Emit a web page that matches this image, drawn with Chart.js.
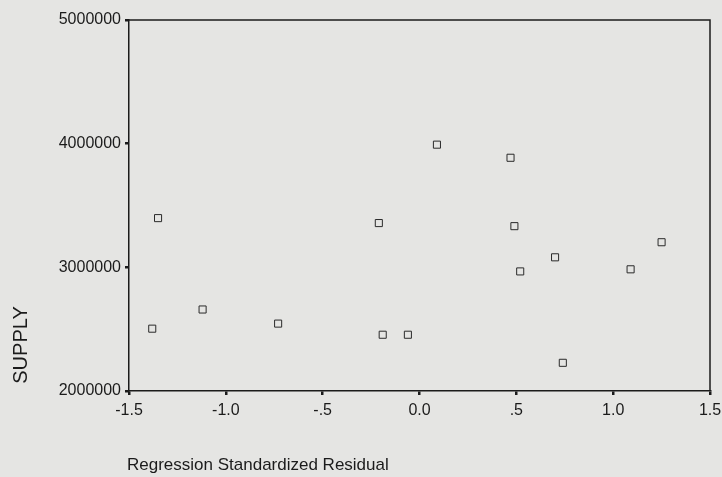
<!DOCTYPE html>
<html>
<head>
<meta charset="utf-8">
<script src="https://cdn.jsdelivr.net/npm/chart.js"></script>
<style>
  html, body { margin: 0; padding: 0; background: #e5e5e3; }
  #wrap { width: 722px; height: 477px; }
</style>
</head>
<body>
<div id="wrap"><canvas id="plot" width="722" height="477"></canvas></div>
<script>
// residuos padronizados (eixo x) e SUPPLY (eixo y)
const residuals = [-1.38, -1.35, -1.12, -0.73, -0.21, -0.19, -0.06, 0.09, 0.47, 0.49, 0.52, 0.70, 0.74, 1.09, 1.25];
const supply = [2504000, 3398000, 2659000, 2545000, 3358000, 2455000, 2455000, 3992000, 3886000, 3333000, 2967000, 3081000, 2228000, 2984000, 3203000];

const xTickLabels = ['-1.5', '-1.0', '-.5', '0.0', '.5', '1.0', '1.5'];
const yTickLabels = ['2000000', '3000000', '4000000', '5000000'];

const xTitle = 'Regression Standardized Residual';
const yTitle = 'SUPPLY';

const ink = '#1b1b1b';

// moldura (topo e direita) + titulos dos eixos no estilo SPSS
const framePlugin = {
    id: 'frame',
    afterDraw(chart) {
        const { ctx, chartArea } = chart;
        ctx.save();
        ctx.strokeStyle = ink;
        ctx.lineWidth = 1.5;
        ctx.beginPath();
        ctx.moveTo(chartArea.left, chartArea.top);
        ctx.lineTo(chartArea.right, chartArea.top);
        ctx.lineTo(chartArea.right, chartArea.bottom);
        ctx.stroke();

        ctx.fillStyle = ink;
        ctx.font = '17px "Liberation Sans", Arial, sans-serif';
        ctx.textAlign = 'left';
        ctx.textBaseline = 'alphabetic';
        ctx.fillText(xTitle, chartArea.left - 2, 470);

        ctx.translate(27, 345);
        ctx.rotate(-Math.PI / 2);
        ctx.font = '20px "Liberation Sans", Arial, sans-serif';
        ctx.textAlign = 'center';
        ctx.fillText(yTitle, 0, 0);
        ctx.restore();
    }
};

new Chart(document.getElementById('plot').getContext('2d'), {
    type: 'scatter',
    data: {
        datasets: [{
            label: yTitle,
            data: residuals.map((x, i) => ({ x: x, y: supply[i] })),
            pointStyle: 'rect',
            pointRadius: 5,
            pointHoverRadius: 5,
            pointBorderWidth: 1,
            pointBorderColor: '#2a2a2a',
            pointBackgroundColor: 'rgba(0,0,0,0)'
        }]
    },
    options: {
        responsive: false,
        animation: false,
        devicePixelRatio: 1,
        layout: { padding: { top: 20, right: 0, left: 0, bottom: 0 } },
        plugins: {
            legend: { display: false },
            tooltip: { enabled: false }
        },
        scales: {
            x: {
                type: 'linear',
                min: -1.5,
                max: 1.5,
                afterFit: scale => { scale.height = 86; scale.paddingRight = 12; },
                border: { display: true, color: ink, width: 1.5 },
                grid: { drawOnChartArea: false, drawTicks: true, tickLength: 4, tickColor: ink, lineWidth: 2.5 },
                ticks: {
                    stepSize: 0.5,
                    autoSkip: false,
                    maxRotation: 0,
                    padding: 6,
                    color: ink,
                    font: { family: '"Liberation Sans", Arial, sans-serif', size: 16 },
                    callback: (value, index) => xTickLabels[index]
                }
            },
            y: {
                type: 'linear',
                min: 2000000,
                max: 5000000,
                afterFit: scale => { scale.width = 129; },
                border: { display: true, color: ink, width: 1.5 },
                grid: { drawOnChartArea: false, drawTicks: true, tickLength: 4, tickColor: ink, lineWidth: 2.5 },
                ticks: {
                    stepSize: 1000000,
                    padding: 4,
                    color: ink,
                    font: { family: '"Liberation Sans", Arial, sans-serif', size: 16 },
                    callback: (value, index) => yTickLabels[index]
                }
            }
        }
    },
    plugins: [framePlugin]
});
</script>
</body>
</html>
